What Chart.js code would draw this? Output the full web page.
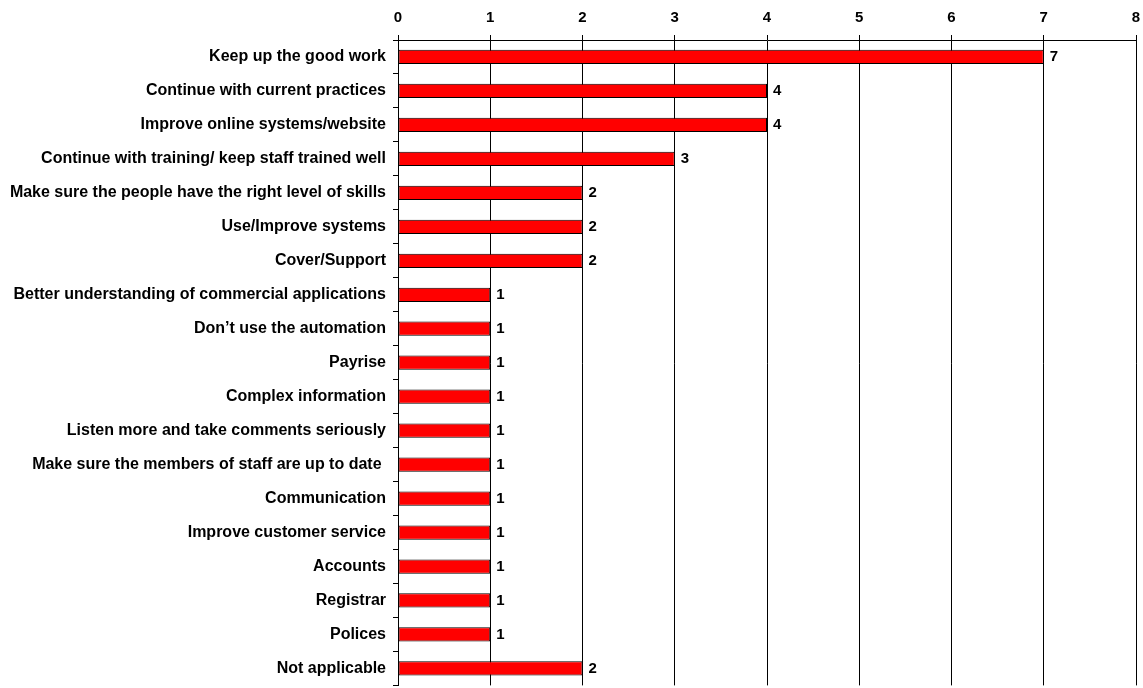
<!DOCTYPE html>
<html>
<head>
<meta charset="utf-8">
<script src="https://cdn.jsdelivr.net/npm/chart.js@4.4.1/dist/chart.umd.min.js"></script>
<style>
  html, body { margin: 0; padding: 0; background: #fff; overflow: hidden; }
  #wrap { width: 1143px; height: 702px; position: relative; }
</style>
</head>
<body>
<div id="wrap"><canvas id="chart"></canvas></div>
<script>
// respuestas (categorias) y recuentos
const categorias = [
  'Keep up the good work',
  'Continue with current practices',
  'Improve online systems/website',
  'Continue with training/ keep staff trained well',
  'Make sure the people have the right level of skills',
  'Use/Improve systems',
  'Cover/Support',
  'Better understanding of commercial applications',
  'Don\u2019t use the automation',
  'Payrise',
  'Complex information',
  'Listen more and take comments seriously',
  'Make sure the members of staff are up to date ',
  'Communication',
  'Improve customer service',
  'Accounts',
  'Registrar',
  'Polices',
  'Not applicable'
];
const valores = [7, 4, 4, 3, 2, 2, 2, 1, 1, 1, 1, 1, 1, 1, 1, 1, 1, 1, 2];
const ejeMin = 0;
const ejeMax = 8;

const FUENTE = "'Liberation Sans', Arial, sans-serif";

// etiquetas de valor al final de cada barra
const etiquetasValor = {
  id: 'etiquetasValor',
  afterDatasetsDraw(chart) {
    const ctx = chart.ctx;
    const meta = chart.getDatasetMeta(0);
    ctx.save();
    ctx.font = 'bold 15px ' + FUENTE;
    ctx.fillStyle = '#000';
    ctx.textAlign = 'left';
    ctx.textBaseline = 'middle';
    meta.data.forEach((bar, i) => {
      ctx.fillText(String(valores[i]), bar.x + 6, bar.y);
    });
    ctx.restore();
  }
};

new Chart(document.getElementById('chart'), {
  type: 'bar',
  data: {
    labels: categorias,
    datasets: [{
      data: valores,
      backgroundColor: '#ff0000',
      borderColor: '#000000',
      borderWidth: 1,
      borderSkipped: false,
      barPercentage: 0.84,
      categoryPercentage: 0.5
    }]
  },
  options: {
    indexAxis: 'y',
    responsive: true,
    maintainAspectRatio: false,
    animation: false,
    layout: { padding: { left: 0, right: 7, top: 0, bottom: 11 } },
    plugins: {
      legend: { display: false },
      tooltip: { enabled: false }
    },
    scales: {
      x: {
        position: 'top',
        min: ejeMin,
        max: ejeMax,
        ticks: {
          stepSize: 1,
          color: '#000',
          padding: 8,
          font: { family: FUENTE, size: 15, weight: 'bold' }
        },
        grid: {
          color: '#000',
          lineWidth: 1,
          drawTicks: true,
          tickLength: 5
        },
        border: { color: '#000', width: 1 },
        afterFit(scale) {
          scale.height = 40;
          scale.paddingLeft = 0;
          scale.paddingRight = 0;
        }
      },
      y: {
        ticks: {
          color: '#000',
          padding: 7,
          autoSkip: false,
          font: { family: FUENTE, size: 16, weight: 'bold' }
        },
        grid: {
          drawOnChartArea: false,
          drawTicks: true,
          tickLength: 5,
          color: '#000',
          offset: true
        },
        border: { color: '#000', width: 1 },
        afterFit(scale) { scale.width = 398; }
      }
    }
  },
  plugins: [etiquetasValor]
});
</script>
</body>
</html>
